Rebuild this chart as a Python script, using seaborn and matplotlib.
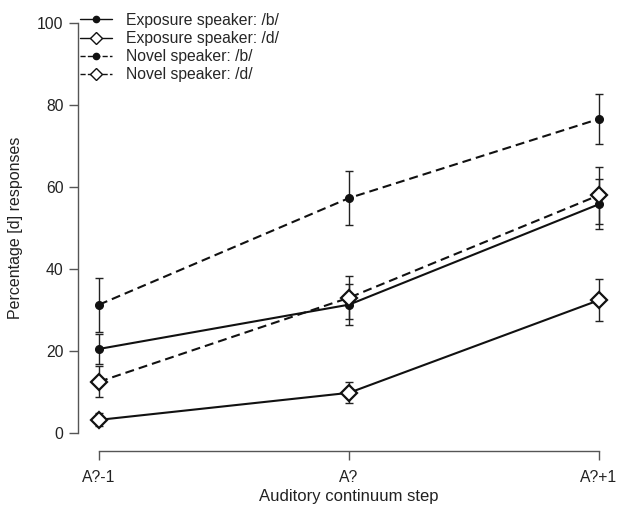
import numpy as np
import pandas as pd
import matplotlib
matplotlib.use("Agg")
import matplotlib.pyplot as plt
import seaborn as sns
from matplotlib.lines import Line2D

# Data
steps = ['A?-1', 'A?', 'A?+1']
exp_b = [20.5, 31.3, 55.8]
exp_b_err = [3.6, 5.0, 6.1]
exp_d = [3.2, 9.8, 32.4]
exp_d_err = [1.6, 2.6, 5.1]
nov_b = [31.3, 57.3, 76.6]
nov_b_err = [6.6, 6.6, 6.2]
nov_d = [12.5, 33.0, 58.0]
nov_d_err = [3.8, 5.2, 7.0]

series = [
    ('Exposure speaker: /b/', exp_b, exp_b_err, '-', 'o'),
    ('Exposure speaker: /d/', exp_d, exp_d_err, '-', 'D'),
    ('Novel speaker: /b/', nov_b, nov_b_err, '--', 'o'),
    ('Novel speaker: /d/', nov_d, nov_d_err, '--', 'D'),
]

sns.set_style('ticks')
plt.rcParams['font.family'] = ['Liberation Sans', 'DejaVu Sans']
plt.rcParams['font.size'] = 11.3

fig = plt.figure(figsize=(6.19, 5.07), dpi=100)
ax = fig.add_axes([99 / 619, 1 - 433 / 507, 500 / 619, 410 / 507])

xs = np.arange(len(steps))
dash = (4.3, 2.4)
handles = []
for name, vals, errs, ls, mk in series:
    df = pd.DataFrame({'step': xs, 'val': vals})
    line_kw = dict(dashes=dash) if ls == '--' else {}
    sns.lineplot(data=df, x='step', y='val', ax=ax, color='#111111',
                 linewidth=1.5, clip_on=False, **line_kw)
    ax.errorbar(xs, vals, yerr=errs, fmt='none', ecolor='#222222',
                elinewidth=1.0, capsize=3, capthick=1.0, clip_on=False)
    if mk == 'o':
        ax.plot(xs, vals, linestyle='none', marker='o', markersize=5.5,
                color='#111111', clip_on=False, zorder=5)
        h = Line2D([], [], color='#111111', linestyle=ls, linewidth=1.0,
                   marker='o', markersize=4.5)
    else:
        ax.plot(xs, vals, linestyle='none', marker='D', markersize=8,
                markerfacecolor='white', markeredgecolor='#111111',
                markeredgewidth=1.6, clip_on=False, zorder=5)
        h = Line2D([], [], color='#111111', linestyle=ls, linewidth=1.0,
                   marker='D', markersize=6.5, markerfacecolor='white',
                   markeredgecolor='#111111', markeredgewidth=1.0)
    handles.append((h, name))

ax.set_xlim(0, 2)
ax.set_ylim(0, 100)
ax.set_xticks(xs)
ax.set_xticklabels(steps)
ax.set_yticks([0, 20, 40, 60, 80, 100])
ax.set_xlabel('Auditory continuum step', color='#222222', labelpad=3,
              fontsize=12)
ax.set_ylabel('Percentage [d] responses', color='#222222', labelpad=10,
              fontsize=11.5)

for side in ['top', 'right']:
    ax.spines[side].set_visible(False)
ax.spines['left'].set_position(('outward', 15))
ax.spines['bottom'].set_position(('outward', 13))
ax.spines['left'].set_bounds(0, 100)
ax.spines['bottom'].set_bounds(0, 2)
for side in ['left', 'bottom']:
    ax.spines[side].set_color('#555555')
    ax.spines[side].set_linewidth(1.0)
ax.tick_params(axis='both', length=6.5, width=1.0, color='#555555',
               labelcolor='#222222', labelsize=11.3)
ax.tick_params(axis='x', pad=7)
ax.tick_params(axis='y', pad=4)

ax.legend([h for h, _ in handles], [n for _, n in handles],
          loc='upper left', bbox_to_anchor=(-0.05, 1.04), frameon=False,
          handlelength=2.0, handletextpad=0.9, labelspacing=0.2,
          fontsize=11.3, borderaxespad=0)

fig.savefig('out.png', dpi=100)
